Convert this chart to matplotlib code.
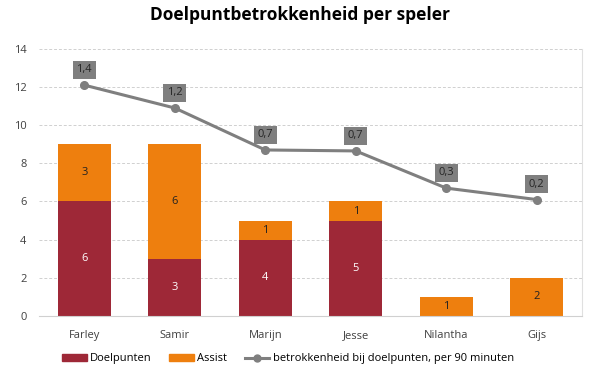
import matplotlib
matplotlib.use("Agg")
import matplotlib.pyplot as plt
from matplotlib.lines import Line2D
from matplotlib.patches import Patch

plt.rcParams["font.family"] = ["Open Sans", "DejaVu Sans"]

spelers = ["Farley", "Samir", "Marijn", "Jesse", "Nilantha", "Gijs"]
doelpunten = [6, 3, 4, 5, 0, 0]
assists = [3, 6, 1, 1, 1, 2]
betrokkenheid = [1.40, 1.16, 0.72, 0.71, 0.32, 0.20]

rood = "#9e2837"
oranje = "#ee7f0e"
grijs = "#7f7f7f"

fig = plt.figure(figsize=(6, 3.73), dpi=100)
ax = fig.add_axes([0.065, 0.153, 0.905, 0.716])

x = range(len(spelers))
w = 0.585
ax.bar(x, doelpunten, w, color=rood, zorder=2)
ax.bar(x, assists, w, bottom=doelpunten, color=oranje, zorder=2)

for i in x:
    if doelpunten[i]:
        ax.text(i, doelpunten[i] / 2, str(doelpunten[i]), ha="center", va="center",
                color="white", fontsize=8)
    if assists[i]:
        ax.text(i, doelpunten[i] + assists[i] / 2, str(assists[i]), ha="center",
                va="center", color="#222222", fontsize=8)

ax.set_ylim(0, 14)
ax.set_xlim(-0.5, len(spelers) - 0.5)
ax.set_yticks(range(0, 15, 2))
ax.set_xticks(list(x))
ax.set_xticklabels(spelers)
ax.tick_params(length=0, labelsize=8, colors="#404040", pad=10)
ax.tick_params(axis="y", pad=9)
ax.grid(axis="y", color="#d0d0d0", linestyle=(0, (3, 2)), linewidth=0.7, zorder=0)
for s in ["top", "left"]:
    ax.spines[s].set_visible(False)
ax.spines["bottom"].set_color("#d0d0d0")
ax.spines["right"].set_color("#e0e0e0")

ax2 = ax.twinx()
ax2.set_ylim(-1.02, 1.78)
ax2.plot(list(x), betrokkenheid, color=grijs, linewidth=2.2, marker="o", markersize=5.5, zorder=3)
ax2.axis("off")
for i, v in zip(x, betrokkenheid):
    ax2.annotate(f"{v:.1f}".replace(".", ","), (i, v), xytext=(0, 11), textcoords="offset points",
                 ha="center", va="center", fontsize=8, color="#262626",
                 bbox=dict(boxstyle="square,pad=0.32", fc=grijs, ec="none"))

fig.suptitle("Doelpuntbetrokkenheid per speler", fontsize=12.5, fontweight="bold", y=0.985)

handles = [Patch(color=rood, label="Doelpunten"),
           Patch(color=oranje, label="Assist"),
           Line2D([], [], color=grijs, linewidth=2.2, marker="o", markersize=5,
                  label="betrokkenheid bij doelpunten, per 90 minuten")]
fig.legend(handles=handles, loc="center", bbox_to_anchor=(0.48, 0.038), ncol=3, frameon=False,
           fontsize=8, handlelength=2.2, handleheight=0.6, handletextpad=0.3, columnspacing=1.6)

fig.savefig("out.png", dpi=100)
